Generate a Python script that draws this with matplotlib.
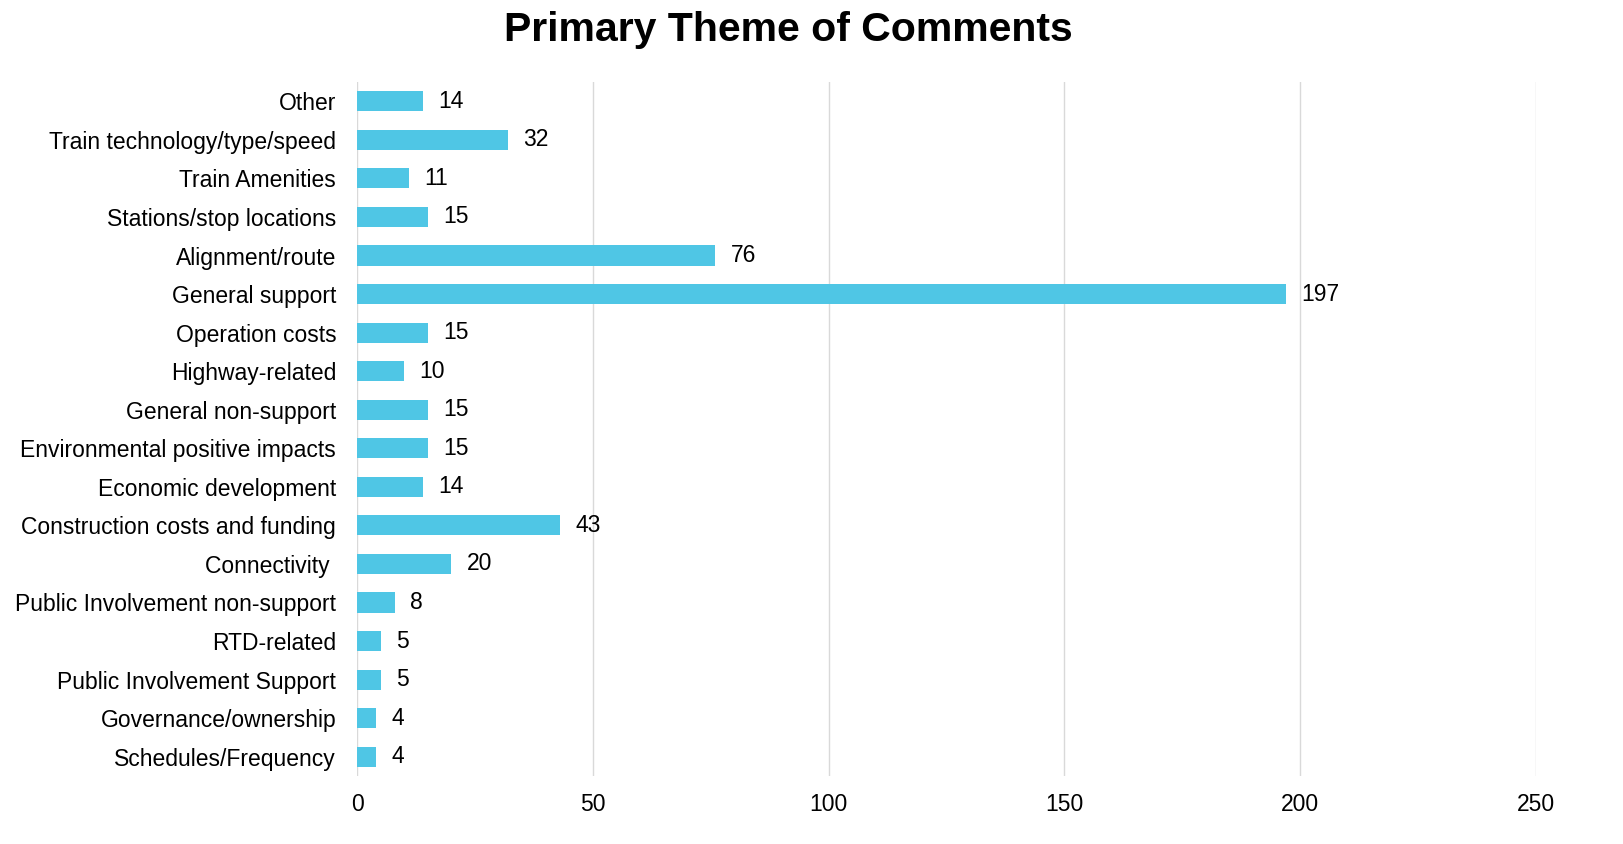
import matplotlib.pyplot as plt

plt.rcParams['font.family'] = ['Liberation Sans', 'DejaVu Sans']

# themes, listed bottom to top as drawn
themes = [
    'Schedules/Frequency',
    'Governance/ownership',
    'Public Involvement Support',
    'RTD-related',
    'Public Involvement non-support',
    'Connectivity ',
    'Construction costs and funding',
    'Economic development',
    'Environmental positive impacts',
    'General non-support',
    'Highway-related',
    'Operation costs',
    'General support',
    'Alignment/route',
    'Stations/stop locations',
    'Train Amenities',
    'Train technology/type/speed',
    'Other',
]
counts = [4, 4, 5, 5, 8, 20, 43, 14, 15, 15, 10, 15, 197, 76, 15, 11, 32, 14]

fig = plt.figure(figsize=(16.23, 8.44), dpi=100)
ax = fig.add_axes([0.22, 0.0806, 0.7264, 0.8222])

bars = ax.barh(range(len(themes)), counts, height=0.52, color='#4FC6E5', zorder=2)

for b, v in zip(bars, counts):
    ax.annotate(str(v), (b.get_width(), b.get_y() + b.get_height() / 2),
                xytext=(11, 0), textcoords='offset points',
                va='center', ha='left', fontsize=16.5)

ax.set_yticks(range(len(themes)))
ax.set_yticklabels(themes, fontsize=16.5)
ax.set_ylim(-0.5, len(themes) - 0.5)
ax.set_xlim(0, 250)
ax.set_xticks([0, 50, 100, 150, 200, 250])
ax.tick_params(axis='x', labelsize=16.5, length=0, pad=12)
ax.tick_params(axis='y', length=0, pad=15)
ax.grid(axis='x', color='#d9d9d9', linewidth=1, zorder=0)
for s in ax.spines.values():
    s.set_visible(False)

fig.text(788 / 1623, 1 - 30 / 844, 'Primary Theme of Comments',
         ha='center', va='center', fontsize=29.5, fontweight='bold')

fig.savefig('out.png', dpi=100)
